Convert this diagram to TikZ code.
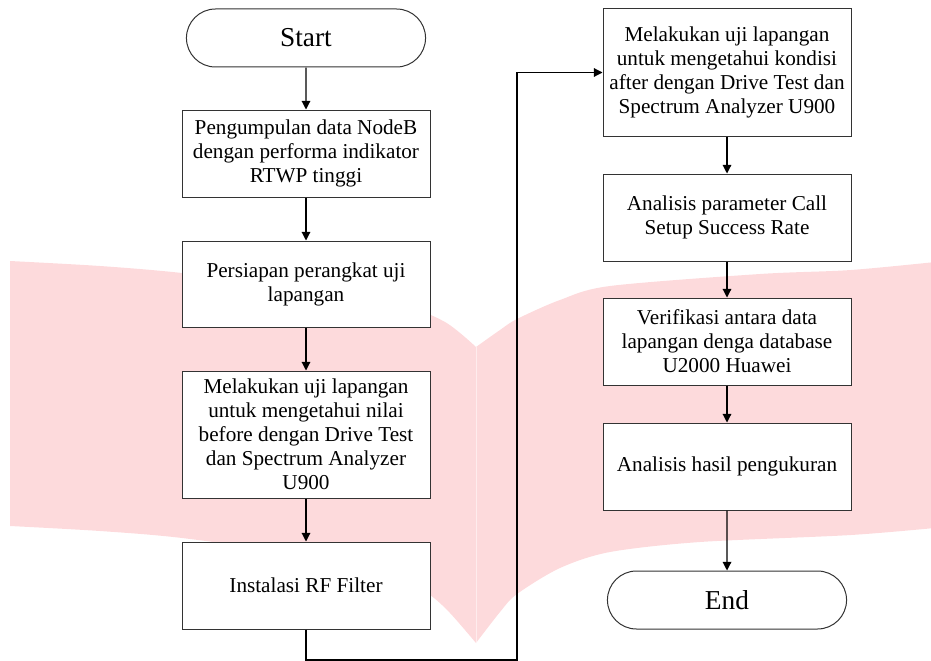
\documentclass[tikz,border=0pt]{standalone}
\usepackage{fontspec}
\setmainfont{Liberation Serif}
\usetikzlibrary{arrows.meta,shapes.misc}
\definecolor{markpink}{RGB}{253,218,220}
\tikzset{>={Triangle[length=6.5pt,width=6.5pt]}}
\tikzset{procbox/.style={rectangle,draw=black!80,line width=0.75pt,fill=white,
    minimum width=186pt,align=center,inner sep=2pt,
    font=\fontsize{15.9}{18}\selectfont}}
\tikzset{termbox/.style={rounded rectangle,draw=black!80,line width=0.75pt,fill=white,
    minimum width=186pt,minimum height=43.5pt,
    font=\fontsize{20.5}{24}\selectfont}}
\tikzset{flow/.style={->,line width=0.85pt,black}}

\begin{document}
\begin{tikzpicture}[x=0.75pt,y=-0.75pt]
  \useasboundingbox (0,0) rectangle (931,660);

  % watermark behind the chart
  \fill[markpink] plot[smooth] coordinates {(10,261) (100,266) (182,273) (300,288) (400,305) (445,322) (476,347)}
    -- plot[smooth] coordinates {(476,643) (450,613) (430,595) (400,578) (300,555) (182,538) (100,531) (10,526)} -- cycle;
  \fill[markpink] plot[smooth] coordinates {(476,347) (500,330) (517,319) (560,300) (610,286) (760,274) (851,270) (945,261)}
    -- (945,527) -- plot[smooth] coordinates {(945,527) (851,535) (700,542) (610,552) (560,568) (517,594) (500,612) (476,643)} -- cycle;
  \draw[white,opacity=0.5,line width=0.6pt] (476,347) -- (476,643);

  % left column
  \node[termbox] (start) at (306,38) {Start};
  \node[procbox,minimum height=65.25pt] (collect) at (306,153.5)
    {Pengumpulan data NodeB\\dengan performa indikator\\RTWP tinggi};
  \node[procbox,minimum height=64.5pt] (prepare) at (306,284)
    {Persiapan perangkat uji\\lapangan};
  \node[procbox,minimum height=95.25pt] (before) at (306,434.5)
    {Melakukan uji lapangan\\untuk mengetahui nilai\\before dengan Drive Test\\dan Spectrum Analyzer\\U900};
  \node[procbox,minimum height=65.25pt] (filter) at (306,585.5)
    {Instalasi RF Filter};

  % right column
  \node[procbox,minimum height=95.25pt] (after) at (727,72.5)
    {Melakukan uji lapangan\\untuk mengetahui kondisi\\after dengan Drive Test dan\\Spectrum Analyzer U900};
  \node[procbox,minimum height=65.25pt] (cssr) at (727,217.5)
    {Analisis parameter Call\\Setup Success Rate};
  \node[procbox,minimum height=65.25pt] (verify) at (727,341.5)
    {Verifikasi antara data\\lapangan denga database\\U2000 Huawei};
  \node[procbox,minimum height=65.25pt] (result) at (727,466.5)
    {Analisis hasil pengukuran};
  \node[termbox] (end) at (727,600) {End};

  \coordinate (turn) at (517,660);

  \draw[flow] (start) -- (collect);
  \draw[flow] (collect) -- (prepare);
  \draw[flow] (prepare) -- (before);
  \draw[flow] (before) -- (filter);
  \draw[flow] (filter.south) |- (turn) |- (after.west);
  \draw[flow] (after) -- (cssr);
  \draw[flow] (cssr) -- (verify);
  \draw[flow] (verify) -- (result);
  \draw[flow] (result) -- (end);
\end{tikzpicture}
\end{document}
